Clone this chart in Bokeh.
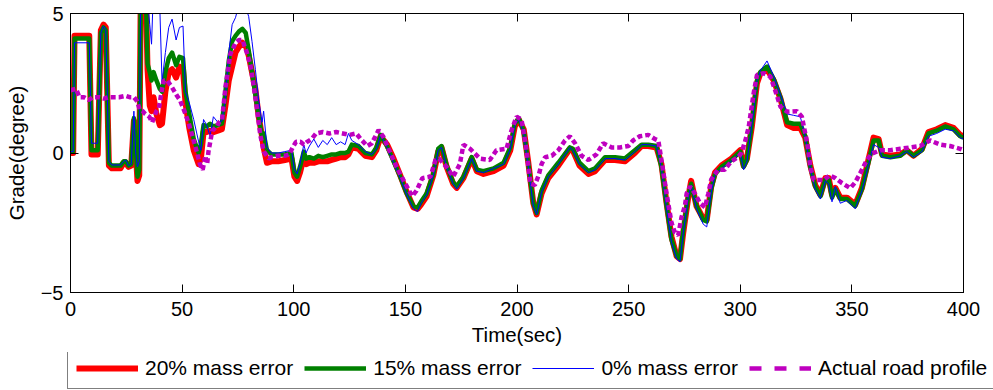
from bokeh.plotting import figure
from bokeh.layouts import column
from bokeh.models import Range1d, FixedTicker, LinearAxis, Legend, LegendItem
from bokeh.embed import file_html
from bokeh.resources import INLINE

# ---------------- data ----------------
t_est = [
    0, 1.2, 1.8, 8.4, 9.4, 12.2, 13.6, 14.8, 15.8, 17.2,
    18.5, 22.4, 23.8, 24.8, 26.0, 27.2, 28.4, 29.2, 30.0, 30.8,
    31.6, 33.4, 34.5, 35.5, 36.3, 37.2, 38.5, 40.0, 41.0, 42.5,
    44.0, 45.5, 47.3, 48.8, 50.4, 51.5, 53.2, 55.2, 57.4, 58.4,
    59.6, 61.0, 62.5, 64.0, 66.0, 67.8, 69.4, 70.9, 72.4, 73.9,
    75.4, 77.0, 78.5, 79.8, 81.3, 82.8, 84.3, 85.8, 86.5, 88.0,
    90, 93, 96, 99, 100.3, 101.5, 102.8, 104.5, 105.5, 107,
    109, 111, 113, 115, 117, 119, 121, 123, 124.5, 126,
    129, 132, 135, 137, 138.9, 141.8, 144.7, 147.7, 150.6, 153.6,
    155.5, 157, 159.5, 162.5, 164.7, 166.2, 168.5, 171.4, 173, 176,
    179.7, 182, 185, 189.5, 194, 197, 199, 200.8, 203, 205,
    207.3, 208.8, 211, 214, 218.5, 223.7, 225, 228, 232, 235,
    239.4, 243.9, 248.3, 252.8, 255.8, 258.8, 262.5, 264.7, 267, 269.2,
    271.5, 273, 274.4, 276.7, 278, 280.4, 283.4, 285, 287, 288.7,
    291.6, 296, 300, 301.5, 303, 305.2, 307.5, 309, 312, 315,
    318, 321, 323.9, 326.9, 329.1, 331.4, 333.6, 335.9, 338.1, 339.6,
    341.1, 342.6, 344.8, 347.8, 351.5, 354.5, 357.4, 359.7, 362, 363.5,
    367.2, 371.7, 374.6, 377.6, 381.4, 384.3, 388, 391.8, 395.5, 398.5,
    400,
]

err20 = [
    0.0, 0.0, 4.2, 4.2, -0.05, -0.05, 4.4, 4.6, 4.5, -0.45,
    -0.55, -0.55, -0.35, -0.35, -0.5, -0.45, 1.15, 0.1, -1.0, -0.8,
    7, 7, 3.0, 1.7, 1.5, 2.0, 1.4, 1.0, 1.05, 2.2,
    2.9, 3.0, 2.7, 3.1, 3.0, 1.8, 0.9, 0.1, -0.4, -0.2,
    0.75, 0.75, 0.8, 0.75, 0.8, 0.85, 1.7, 2.6, 3.1, 3.6,
    3.8, 3.95, 3.85, 3.5, 2.9, 2.3, 1.3, 0.6, 0.2, -0.35,
    -0.3, -0.3, -0.25, -0.2, -0.85, -1.0, -0.7, -0.15, -0.4, -0.35,
    -0.35, -0.3, -0.3, -0.3, -0.25, -0.2, -0.15, -0.15, -0.05, 0.2,
    0.15, -0.1, -0.15, 0.1, 0.6, 0.3, -0.2, -0.8, -1.4, -1.95,
    -2.0, -1.85, -1.55, -0.8, 0.05, 0.2, -0.5, -1.1, -1.25, -0.9,
    -0.2, -0.65, -0.75, -0.65, -0.45, 0.1, 0.95, 1.2, 0.85, -0.3,
    -1.8, -2.2, -1.45, -0.9, -0.45, 0.15, 0.1, -0.45, -0.75, -0.65,
    -0.25, -0.25, -0.3, 0.0, 0.25, 0.25, 0.2, -0.4, -1.8, -3.0,
    -3.7, -3.8, -2.9, -1.6, -1.0, -1.9, -2.35, -2.4, -1.2, -0.7,
    -0.45, -0.2, 0.1, -0.45, -0.2, 0.95, 2.5, 2.85, 3.0, 2.6,
    1.95, 1.0, 0.9, 0.9, 0.55, -0.45, -1.15, -1.5, -0.9, -0.9,
    -1.5, -1.25, -1.6, -1.6, -1.85, -1.25, -0.25, 0.55, 0.5, -0.05,
    -0.1, -0.05, 0.1, -0.1, 0.15, 0.75, 0.85, 1.0, 0.9, 0.65,
    0.6,
]

err15 = [
    0.05, 0.05, 4.1, 4.1, 0.1, 0.1, 4.3, 4.5, 4.4, -0.35,
    -0.45, -0.45, -0.3, -0.3, -0.45, -0.4, 1.25, 0.2, -0.85, -0.6,
    7, 7, 3.2, 2.9, 2.6, 2.9, 2.6, 2.3, 2.2, 2.9,
    3.4, 3.6, 3.15, 3.45, 3.4, 2.2, 1.4, 0.5, 0.0, 0.3,
    1.0, 0.95, 1.05, 0.95, 1.0, 1.05, 2.2, 3.3, 4.0, 4.2,
    4.35, 4.45, 4.3, 3.7, 2.9, 2.1, 1.3, 0.6, 0.7, 0.1,
    -0.05, -0.05, -0.05, 0.0, -0.7, -0.85, -0.5, 0.05, -0.2, -0.15,
    -0.2, -0.1, -0.15, -0.1, -0.05, -0.05, 0.0, 0.0, 0.05, 0.3,
    0.25, 0.0, -0.05, 0.2, 0.65, 0.25, -0.3, -0.85, -1.45, -1.9,
    -1.95, -1.75, -1.45, -0.75, 0.15, 0.25, -0.45, -1.05, -1.2, -0.85,
    -0.15, -0.6, -0.65, -0.55, -0.35, 0.2, 1.05, 1.25, 0.8, -0.35,
    -1.8, -2.15, -1.35, -0.8, -0.35, 0.2, 0.15, -0.35, -0.65, -0.55,
    -0.15, -0.15, -0.2, 0.1, 0.3, 0.3, 0.25, -0.5, -1.9, -3.1,
    -3.7, -3.8, -2.8, -1.55, -1.1, -1.9, -2.4, -2.45, -1.3, -0.75,
    -0.5, -0.25, 0.05, -0.5, -0.25, 1.05, 2.6, 2.9, 3.1, 2.65,
    2.0, 1.1, 1.05, 1.05, 0.6, -0.5, -1.2, -1.55, -0.95, -0.95,
    -1.6, -1.3, -1.65, -1.65, -1.9, -1.3, -0.35, 0.45, 0.45, -0.1,
    -0.15, -0.1, 0.1, -0.1, 0.1, 0.7, 0.8, 0.95, 0.85, 0.6,
    0.55,
]

err0 = [
    0.05, 0.05, 3.95, 3.95, 0.35, 0.35, 4.3, 4.55, 4.4, -0.3,
    -0.43, -0.43, -0.3, -0.25, -0.45, -0.4, 1.5, 0.0, -0.5, -0.3,
    7, 7, 5.5, 4.6, 3.9, 6, 6, 5.2, 2.55, 3.6,
    4.5, 4.8, 4.05, 4.5, 4.55, 2.2, 1.8, 1.2, 0.4, 0.1,
    1.2, 1.0, 0.6, 1.3, 1.1, 1.15, 2.0, 3.6, 4.6, 4.85,
    5.3, 5.3, 5.2, 4.9, 4.0, 3.0, 1.9, 1.1, 1.5, 0.2,
    0.0, 0.0, 0.05, 0.1, -0.6, -0.75, -0.4, 0.3, 0.0, 0.25,
    0.5, 0.2, 0.45, 0.3, 0.55, 0.3, 0.4, 0.3, 0.7, 0.45,
    0.3, 0.05, -0.05, 0.15, 0.65, 0.2, -0.35, -0.9, -1.5, -2.0,
    -2.1, -1.8, -1.5, -0.8, 0.1, 0.2, -0.5, -1.1, -1.3, -0.9,
    -0.2, -0.65, -0.7, -0.55, -0.4, 0.15, 1.0, 1.2, 0.7, -0.45,
    -1.9, -2.2, -1.4, -0.85, -0.4, 0.2, 0.1, -0.4, -0.7, -0.6,
    -0.2, -0.2, -0.25, 0.05, 0.3, 0.3, 0.25, -0.55, -2.0, -3.2,
    -3.8, -3.9, -2.9, -1.6, -1.15, -2.0, -2.55, -2.65, -1.4, -0.8,
    -0.55, -0.3, 0.0, -0.6, -0.3, 1.0, 2.6, 2.95, 3.3, 2.75,
    2.1, 1.4, 1.35, 1.3, 0.6, -0.55, -1.3, -1.65, -1.0, -1.1,
    -1.75, -1.2, -1.8, -1.7, -2.0, -1.35, -0.45, 0.3, 0.2, -0.15,
    -0.2, -0.1, 0.05, -0.15, 0.05, 0.6, 0.7, 0.85, 0.8, 0.55,
    0.5,
]

t_road = [
    0, 2.5, 4.0, 6, 8.2, 10, 12.7, 15, 17.2, 20,
    21.7, 24.6, 26.5, 28.4, 29.9, 31, 32.3, 33.5, 35.3, 36.6,
    37.5, 38.5, 39.6, 41.0, 41.8, 43.3, 45.5, 47.7, 49, 51.5,
    53, 55, 56.7, 58, 59.2, 60.4, 61.2, 61.8, 63.5, 65.6,
    66.5, 67.9, 69.4, 71.6, 74, 75.5, 77, 79, 80.6, 82,
    83.5, 85, 86.6, 88.8, 90, 93, 96, 98, 99.5, 101,
    103, 104.5, 106, 108, 110, 113, 116, 119, 122, 125,
    128, 130, 132.9, 135, 138, 140, 143.3, 146, 149, 151,
    153, 155, 157.6, 161.2, 163.5, 165, 168.5, 171.4, 174.4, 176,
    179, 183.4, 187.8, 190.8, 195.3, 197.5, 199.8, 202, 204, 206,
    208, 209.7, 211, 212.6, 215.6, 218.5, 221.5, 223.7, 226, 228.9,
    232, 235.6, 238.6, 242.4, 246.1, 249.9, 252, 255, 258.8, 261.8,
    263.3, 264.7, 267, 269.2, 270.7, 272.2, 273.7, 275.2, 276, 277.5,
    279.7, 282, 284.2, 285.7, 287, 290, 293, 296, 299, 300.5,
    302.3, 303.8, 306, 307.5, 310.4, 313.4, 315.6, 318, 321, 325.4,
    327.6, 330, 331.4, 332.9, 337.4, 340, 342.6, 345.6, 349.3, 351.5,
    353.7, 356.7, 359, 362.7, 367.2, 371.7, 376.2, 380.6, 385, 389.5,
    394, 398.5, 400,
]

road = [
    2.25, 2.3, 2.0, 2.0, 1.9, 2.0, 2.0, 1.95, 2.0, 2.0,
    2.0, 2.05, 2.0, 2.0, 1.85, 1.55, 1.5, 1.4, 1.3, 1.1,
    1.3, 1.5, 1.6, 2.3, 2.6, 2.6, 2.35, 2.05, 1.9, 1.4,
    1.05, 0.5, 0.0, -0.4, -0.6, -0.1, -0.4, 0.05, 0.8, 0.95,
    1.1, 1.2, 2.35, 3.55, 3.95, 4.05, 4.05, 3.6, 3.15, 2.43,
    1.6, 0.65, 0.05, -0.2, -0.15, -0.1, -0.1, -0.05, 0.2, 0.4,
    0.4, 0.3, 0.4, 0.5, 0.7, 0.75, 0.7, 0.75, 0.7, 0.65,
    0.7, 0.5, 0.25, 0.35, 0.82, 0.6, 0.0, -0.5, -0.95, -1.25,
    -1.55, -1.35, -0.9, -0.85, -0.25, -0.2, -0.5, -0.85, -0.4, 0.3,
    0.15, -0.2, -0.25, 0.1, 0.15, 0.8, 1.3, 1.2, 0.25, -1.1,
    -1.15, -0.8, -0.4, -0.15, -0.1, 0.1, 0.45, 0.6, 0.35, -0.1,
    -0.25, -0.05, 0.35, 0.2, 0.2, 0.25, 0.45, 0.6, 0.65, 0.5,
    0.45, -0.25, -1.45, -2.5, -2.85, -2.95, -2.3, -1.9, -1.45, -1.2,
    -1.45, -1.8, -1.95, -1.45, -0.95, -0.6, -0.6, -0.3, -0.15, 0.0,
    0.45, 0.94, 2.14, 2.8, 2.86, 2.75, 2.26, 1.66, 1.48, 1.5,
    1.3, 0.35, -0.5, -0.97, -0.97, -0.8, -0.9, -1.08, -1.26, -1.05,
    -0.73, -0.25, -0.02, 0.1, 0.1, 0.15, 0.2, 0.25, 0.45, 0.3,
    0.25, 0.15, 0.1,
]

x_ticks = [0, 50, 100, 150, 200, 250, 300, 350, 400]
y_ticks = [-5, 0, 5]
y_tick_labels = {-5: "\u22125", 0: "0", 5: "5"}
labels = ["20% mass error", "15% mass error", "0% mass error", "Actual road profile"]
colors = ["#FF0000", "#008000", "#0000FF", "#BF00BF"]
widths = [6, 4.5, 1, 4.5]

# ---------------- main figure ----------------
FONT = "Liberation Sans"
p = figure(width=993, height=352, output_backend="svg", toolbar_location=None,
           x_range=Range1d(0, 400), y_range=Range1d(-5, 5),
           min_border_left=70, min_border_right=30, min_border_top=13,
           min_border_bottom=60)
p.xgrid.visible = False
p.ygrid.visible = False
p.outline_line_color = "black"
p.outline_line_width = 1
p.background_fill_color = "white"
p.border_fill_color = "white"

def style_axis(ax, show_labels=True):
    ax.major_tick_in = 8
    ax.major_tick_out = 0
    ax.minor_tick_line_color = None
    ax.axis_line_color = "black"
    ax.major_tick_line_color = "black"
    if show_labels:
        ax.major_label_text_font = FONT
        ax.major_label_text_font_size = "20px"
        ax.major_label_text_color = "black"
    else:
        ax.major_label_text_font_size = "1px"
        ax.major_label_text_color = None
        ax.major_label_standoff = 0

p.xaxis.ticker = FixedTicker(ticks=x_ticks)
p.yaxis.ticker = FixedTicker(ticks=y_ticks)
p.yaxis.major_label_overrides = y_tick_labels
style_axis(p.xaxis[0])
style_axis(p.yaxis[0])
p.xaxis.major_label_standoff = 9
p.yaxis.major_label_standoff = 7
p.xaxis.axis_label = "Time(sec)"
p.yaxis.axis_label = "Grade(degree)"
for ax in (p.xaxis[0], p.yaxis[0]):
    ax.axis_label_text_font = FONT
    ax.axis_label_text_font_size = "20.5px"
    ax.axis_label_text_font_style = "normal"
    ax.axis_label_text_color = "black"
p.xaxis.axis_label_standoff = 4
p.yaxis.axis_label_standoff = 10

top = LinearAxis(ticker=FixedTicker(ticks=x_ticks))
style_axis(top, show_labels=False)
p.add_layout(top, "above")
right = LinearAxis(ticker=FixedTicker(ticks=y_ticks))
style_axis(right, show_labels=False)
p.add_layout(right, "right")

p.line(t_est, err20, line_color=colors[0], line_width=widths[0], line_join="round")
p.line(t_est, err15, line_color=colors[1], line_width=widths[1], line_join="round")
p.line(t_est, err0, line_color=colors[2], line_width=widths[2], line_join="round")
p.line(t_road, road, line_color=colors[3], line_width=widths[3], line_dash="5 3")

# ---------------- legend strip (own figure, not frame-aligned) ----------------
lf = figure(width=993, height=38, output_backend="svg", toolbar_location=None,
            x_range=Range1d(0, 1), y_range=Range1d(0, 1),
            x_axis_type=None, y_axis_type=None,
            min_border_left=0, min_border_right=0, min_border_top=0,
            min_border_bottom=0)
lf.frame_align = False
lf.outline_line_color = None
lf.xgrid.visible = False
lf.ygrid.visible = False
lf.border_fill_color = "white"
lf.background_fill_color = "white"

dashes = ["solid", "solid", "solid", "12 13"]
items = []
for lab, col, w, d in zip(labels, colors, widths, dashes):
    # off-range sample line, used only for the legend swatch
    rr = lf.line([-2, -1], [-2, -1], line_color=col, line_width=w, line_dash=d)
    items.append(LegendItem(label=lab, renderers=[rr]))

legend = Legend(items=items, orientation="horizontal", location=(67, 1),
                glyph_width=62, glyph_height=20, label_standoff=7, spacing=11,
                padding=8, margin=0, border_line_color="black",
                border_line_width=1, label_text_font=FONT,
                label_text_color="black",
                label_text_font_size="21px", background_fill_color="white",
                background_fill_alpha=1.0)
lf.add_layout(legend, "center")

layout = column(p, lf, spacing=0)
open("out.html", "w").write(file_html(layout, INLINE))
